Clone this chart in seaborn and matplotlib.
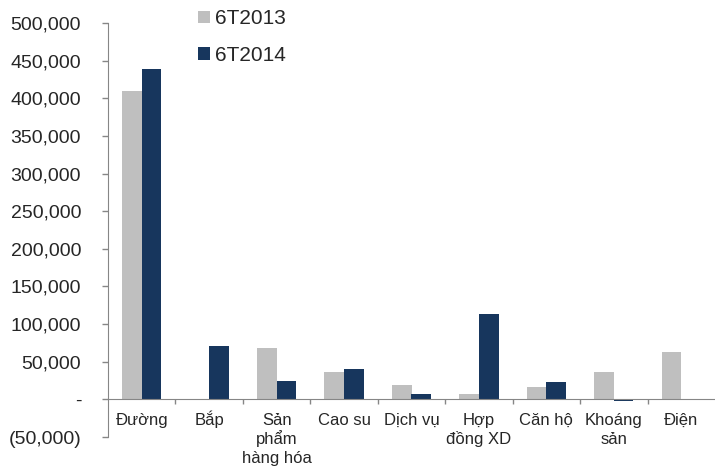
import matplotlib
matplotlib.use("Agg")
import matplotlib.pyplot as plt
import matplotlib.ticker as mticker
import seaborn as sns
import pandas as pd

categories = ["Đường", "Bắp", "Sản\nphẩm\nhàng hóa", "Cao su", "Dịch vụ",
              "Hợp\nđồng XD", "Căn hộ", "Khoáng\nsản", "Điện"]
series_names = ["6T2013", "6T2014"]
values_2013 = [409000, 0, 68500, 37000, 18500, 6500, 16000, 36000, 63000]
values_2014 = [439000, 71000, 25000, 40000, 7500, 114000, 23000, -2000, 0]
colors = ["#BFBFBF", "#17365D"]

df = pd.DataFrame({
    "category": categories * 2,
    "series": [series_names[0]] * len(categories) + [series_names[1]] * len(categories),
    "value": values_2013 + values_2014,
})

sns.set_style("white")
plt.rcParams["font.family"] = ["Liberation Sans", "DejaVu Sans"]

fig = plt.figure(figsize=(7.15, 4.67), dpi=100)
ax = fig.add_axes([108 / 715, 1 - 437 / 467, 607 / 715, (437 - 23) / 467])

sns.barplot(data=df, x="category", y="value", hue="series", order=categories,
            hue_order=series_names, palette=colors, width=0.58, gap=0,
            saturation=1, ax=ax, legend=True, linewidth=0)

axis_grey = "#868686"
ax.set_ylim(-50000, 500000)
ax.set_xlim(-0.5, len(categories) - 0.5)
ax.set_xlabel("")
ax.set_ylabel("")

def fmt(v, pos):
    if abs(v) < 1:
        return "-"
    if v < 0:
        return "({:,.0f})".format(-v)
    return "{:,.0f}".format(v)

ax.yaxis.set_major_locator(mticker.MultipleLocator(50000))
ax.yaxis.set_major_formatter(mticker.FuncFormatter(fmt))
ax.tick_params(axis="y", direction="out", length=4.3, width=1, color=axis_grey,
               labelsize=14, pad=15, left=True)

# category axis drawn along zero, tick marks between categories
ax.spines["bottom"].set_position(("data", 0))
ax.spines["bottom"].set_color(axis_grey)
ax.spines["left"].set_color(axis_grey)
ax.spines["top"].set_visible(False)
ax.spines["right"].set_visible(False)
ax.set_xticks([i + 0.5 for i in range(len(categories) - 1)])
ax.set_xticklabels([])
ax.tick_params(axis="x", which="major", direction="out", length=3.5, width=1,
               color=axis_grey, bottom=True)

# category names under the zero line, each line set on a common baseline
first_baseline_pt = 18.7
line_step_pt = 13.4
for i, name in enumerate(categories):
    for k, line in enumerate(name.split("\n")):
        ax.annotate(line, xy=(i, 0), xycoords="data",
                    xytext=(0, -(first_baseline_pt + k * line_step_pt)),
                    textcoords="offset points", ha="center", va="baseline",
                    fontsize=12, annotation_clip=False)

handles, labels = ax.get_legend_handles_labels()
ax.legend(handles, labels, loc="upper left", bbox_to_anchor=(190 / 715, 1 - 1 / 467),
          bbox_transform=fig.transFigure, frameon=False, fontsize=15,
          handlelength=0.55, handleheight=0.55, handletextpad=0.25,
          labelspacing=0.85, borderaxespad=0.2, borderpad=0.2)

fig.savefig("out.png", dpi=100)
